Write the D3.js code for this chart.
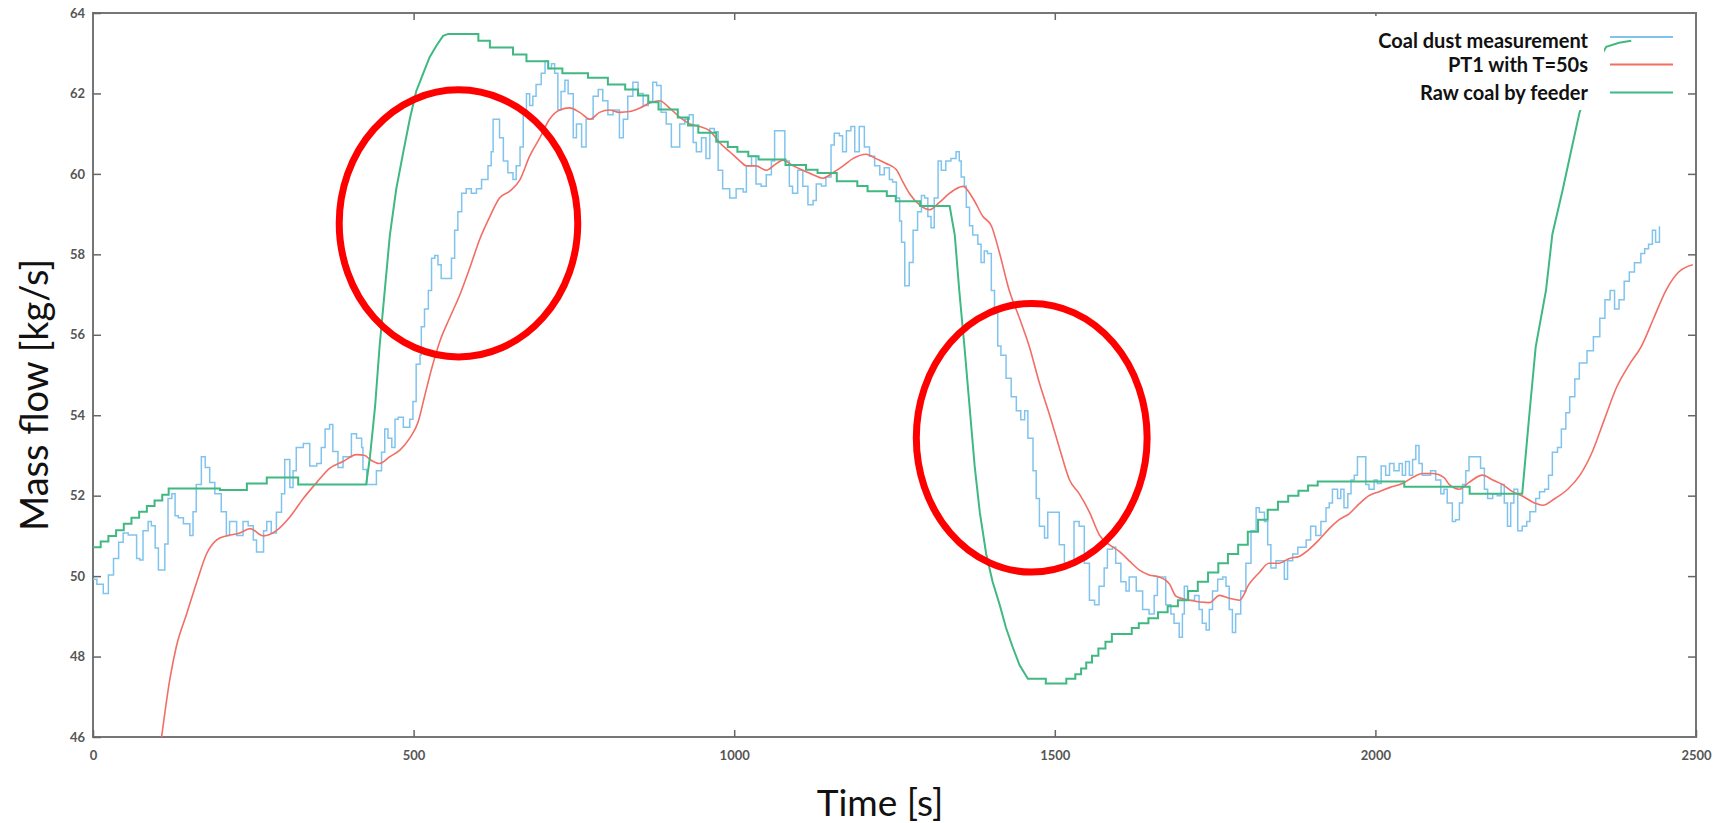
<!DOCTYPE html>
<html>
<head>
<meta charset="utf-8">
<script src="https://cdn.jsdelivr.net/npm/d3@7"></script>
<style>
  body { margin: 0; background: #fff; }
  .tick text { font-family: Lato, "Open Sans", sans-serif; font-weight: 700; font-size: 13px; fill: #555; }
  .tick line { stroke: #666; stroke-width: 1.5; }
  .domain { display: none; }
</style>
</head>
<body>
<div id="chart"></div>
<script>
// ---- data: [time s, mass flow kg/s]
var xTicks = [0, 500, 1000, 1500, 2000, 2500];
var yTicks = [46, 48, 50, 52, 54, 56, 58, 60, 62, 64];
var seriesNames = ["Coal dust measurement", "PT1 with T=50s", "Raw coal by feeder"];

var coalDust = [
[0,49.92],[6,49.8],[16,49.57],[24,50.03],[32,50.44],[40,50.84],[47,51.07],[55,51.02],[63,51.02],[68,50.44],[73,50.4],[78,51.13],[86,51.36],[91,51.25],[97,50.7],[102,50.15],[107,50.15],[112,50.8],[117,51.93],[123,52.05],[128,51.5],[133,51.45],[141,51.3],[151,51.01],[156,51.6],[161,52.28],[169,52.97],[175,52.7],[182,52.33],[190,52.05],[200,51.6],[208,51.01],[213,51.36],[224,51.01],[234,51.36],[242,51.25],[250,50.9],[255,50.6],[263,50.6],[266,51.13],[271,51.36],[278,51.07],[286,51.59],[294,52.05],[299,52.9],[307,52.2],[312,52.62],[317,53.2],[328,53.3],[338,52.74],[349,52.8],[356,53.2],[362,53.66],[369,53.77],[374,53.1],[382,52.7],[390,52.97],[398,52.97],[403,53.54],[411,53.43],[419,53.2],
[421,52.65],[427,52.28],[434,52.28],[442,52.62],[450,53.08],[455,53.66],[460,53.43],[466,53.2],[471,53.9],[476,53.95],[484,53.7],[494,53.9],[499,54.34],[504,55.27],[510,55.5],[512,56.2],[517,56.64],[523,57.1],[528,57.9],[533,57.97],[538,57.74],[543,57.4],[554,57.4],[559,57.9],[564,58.6],[569,59.06],[575,59.52],[582,59.63],[590,59.52],[598,59.63],[606,59.86],[616,60.2],[621,60.55],[624,61.36],[629,61.36],[634,60.9],[640,60.32],[647,60.03],[655,59.86],[660,60.2],[666,60.67],[671,61.59],[676,61.99],[681,61.7],[686,61.93],[691,62.22],[699,62.5],[705,62.8],[710,62.62],[715,62.74],[720,62.5],[725,61.59],[730,62.05],[736,62.33],[741,61.99],[749,60.9],[754,61.24],[762,60.67],[769,61.36],[780,61.93],[788,62.1],[795,61.82],[803,61.47],[811,61.59],[821,60.9],[827,61.36],[834,61.93],[842,62.28],
[850,62.0],[858,61.7],[866,61.8],[873,62.28],[879,62.2],[886,61.53],[894,61.24],[902,60.67],[910,60.67],[915,61.24],[923,61.36],[930,61.47],[936,60.78],[941,60.55],[949,60.9],[956,60.38],[962,61.13],[969,61.05],[975,60.09],[982,59.63],[993,59.4],[1003,59.63],[1014,59.55],[1019,60.2],[1027,60.44],[1034,59.75],[1042,59.69],[1050,59.98],[1058,60.32],[1063,61.07],[1073,61.07],[1079,60.32],[1086,59.69],[1091,59.52],[1099,60.09],[1107,59.69],[1115,59.23],[1123,59.34],[1128,59.75],[1136,59.7],[1143,59.92],[1151,60.72],[1156,61.01],[1164,60.95],[1169,60.55],[1175,61.07],[1182,61.18],[1188,60.55],[1195,61.18],[1203,60.67],[1211,60.44],[1219,60.2],[1227,59.98],[1234,60.15],[1242,59.86],[1247,59.8],[1253,59.4],[1258,58.83],
[1261,58.3],[1266,57.22],[1273,57.8],[1279,58.6],[1286,59.06],[1292,59.46],[1297,59.4],[1302,58.94],[1307,58.66],[1312,59.4],[1318,60.32],[1323,60.09],[1330,60.32],[1338,60.38],[1346,60.55],[1351,60.32],[1354,59.92],[1359,59.69],[1362,59.17],[1367,58.71],[1372,58.48],[1380,58.25],[1385,57.8],[1390,58.08],[1395,58.02],[1401,57.1],[1406,56.53],[1411,55.72],[1416,55.49],[1424,54.92],[1432,54.46],[1440,54.11],[1447,53.89],[1453,54.11],[1458,53.43],[1466,52.62],[1471,51.93],[1476,51.24],[1484,50.95],[1489,51.59],[1502,51.59],[1507,50.78],[1515,50.32],[1523,50.32],[1530,51.36],[1538,51.24],[1546,50.32],[1554,49.4],[1562,49.29],[1569,49.75],[1577,50.2],[1582,50.67],[1590,50.72],[1595,50.32],[1603,49.86],[1611,49.63],[1616,49.98],[1627,49.63],[1637,49.17],[1647,49.06],[1655,49.52],[1660,49.98],[1668,49.98],[1673,49.29],[1681,49.06],[1686,48.83],
[1694,48.48],[1699,49.06],[1702,49.75],[1707,49.4],[1718,49.52],[1725,49.17],[1730,48.83],[1736,48.66],[1741,49.17],[1746,49.63],[1754,49.92],[1762,49.98],[1767,49.75],[1772,49.17],[1777,48.6],[1782,49.06],[1790,49.63],[1798,50.32],[1806,51.13],[1814,51.7],[1819,51.59],[1827,51.36],[1832,50.78],[1837,50.2],[1845,50.38],[1858,49.92],[1863,50.38],[1871,50.55],[1879,50.72],[1892,50.9],[1899,51.24],[1907,51.01],[1915,51.36],[1923,51.7],[1928,51.82],[1933,52.16],[1941,51.93],[1946,52.16],[1951,51.7],[1957,52.05],[1962,52.39],[1967,52.51],[1972,52.97],[1980,52.97],[1985,52.28],[1990,52.16],[1998,52.39],[2003,52.3],[2009,52.74],[2016,52.51],[2022,52.8],[2029,52.62],[2037,52.8],[2042,52.51],[2047,52.85],[2053,52.51],[2058,52.9],[2063,53.25],[2068,52.8],[2073,52.51],[2086,52.62],[2094,52.39],[2102,52.05],
[2107,52.16],[2112,51.82],[2120,51.36],[2125,51.4],[2131,51.82],[2136,52.28],[2141,52.62],[2146,52.97],[2159,52.97],[2164,52.68],[2170,52.16],[2175,51.93],[2183,52.05],[2190,52.0],[2196,52.28],[2201,51.82],[2206,51.24],[2211,51.82],[2216,52.16],[2222,51.13],[2229,51.24],[2236,51.36],[2241,51.6],[2250,51.93],[2256,52.1],[2264,52.16],[2270,52.51],[2276,53.08],[2284,53.2],[2290,53.66],[2297,54.06],[2303,54.46],[2311,54.9],[2318,55.3],[2330,55.6],[2340,55.95],[2350,56.41],[2358,56.87],[2366,57.1],[2373,56.64],[2380,56.87],[2388,57.33],[2396,57.56],[2404,57.79],[2414,58.02],[2420,58.14],[2426,58.25],[2432,58.6],[2437,58.3],[2443,58.7]
];

var pt1 = [
[107,46.0],[120,47.45],[130,48.25],[146,49.06],[162,49.86],[177,50.55],[193,50.9],[208,51.0],[229,51.07],[245,51.18],[266,51.0],[286,51.13],[307,51.47],[328,51.93],[349,52.33],[369,52.68],[390,52.85],[411,53.02],[424,53.0],[432,52.9],[447,52.8],[463,52.97],[479,53.14],[494,53.43],[507,53.83],[517,54.46],[528,55.15],[541,55.84],[556,56.41],[572,56.99],[588,57.68],[603,58.37],[619,58.94],[634,59.4],[650,59.57],[666,59.86],[681,60.44],[697,60.9],[712,61.36],[728,61.59],[743,61.64],[759,61.53],[775,61.36],[790,61.53],[806,61.59],[821,61.53],[837,61.55],[853,61.64],[868,61.76],[884,61.82],[899,61.64],[915,61.41],[931,61.24],[946,61.18],[962,61.07],[977,60.78],[993,60.55],[1009,60.32],[1019,60.2],[1034,60.2],[1050,60.09],[1066,60.26],[1076,60.34],[1092,60.2],[1107,60.09],[1123,59.98],[1138,59.89],[1154,60.03],[1170,60.2],[1185,60.38],[1206,60.49],[1221,60.38],[1237,60.26],[1253,60.1],[1263,59.8],[1273,59.52],[1289,59.23],[1305,59.11],[1320,59.29],[1336,59.52],[1357,59.69],[1372,59.4],[1388,58.94],[1401,58.71],[1414,58.02],[1429,57.1],[1445,56.41],[1460,55.72],[1476,54.8],[1492,54.0],[1507,53.2],[1523,52.39],[1538,52.05],[1554,51.59],[1570,51.01],[1585,50.78],[1601,50.61],[1616,50.38],[1632,50.15],[1647,50.03],[1663,49.98],[1679,49.8],[1689,49.5],[1710,49.4],[1741,49.34],[1757,49.52],[1772,49.45],[1788,49.4],[1803,49.8],[1819,50.09],[1834,50.32],[1850,50.32],[1866,50.44],[1881,50.49],[1897,50.67],[1912,50.9],[1928,51.18],[1944,51.41],[1959,51.55],[1975,51.8],[1990,52.0],[2006,52.1],[2022,52.2],[2042,52.3],[2058,52.45],[2073,52.55],[2089,52.55],[2107,52.45],[2115,52.28],[2131,52.16],[2146,52.33],[2167,52.51],[2183,52.39],[2198,52.28],[2214,52.1],[2229,51.99],[2248,51.82],[2261,51.76],[2280,51.93],[2300,52.16],[2319,52.51],[2338,53.08],[2357,53.89],[2376,54.69],[2396,55.26],[2415,55.72],[2434,56.41],[2453,57.1],[2473,57.56],[2495,57.74]
];

// feeder signal is a staircase, corners listed as read
var rawCoal = [
[0,50.72],[12,50.72],[12,50.86],[24,50.86],[24,51.0],[36,51.0],[36,51.14],[48,51.14],[48,51.3],[60,51.3],[60,51.45],[72,51.45],[72,51.6],[84,51.6],[84,51.74],[96,51.74],[96,51.88],[108,51.88],[108,52.02],[118,52.02],[118,52.18],[198,52.18],[198,52.14],[240,52.14],[240,52.3],[271,52.3],[271,52.45],[320,52.45],[320,52.28],[426,52.28],
[432,52.97],[440,54.23],[447,55.72],[455,57.1],[463,58.48],[473,59.63],[484,60.55],[494,61.36],[504,62.05],[515,62.5],[525,62.9],[536,63.2],[546,63.43],[554,63.48],
[601,63.48],[601,63.31],[619,63.31],[619,63.14],[655,63.14],[655,62.97],[676,62.97],[676,62.8],[710,62.8],[710,62.62],[732,62.62],[732,62.5],[772,62.5],[772,62.39],[803,62.39],[803,62.22],[830,62.22],[830,62.1],[850,62.1],[850,61.95],[866,61.95],[866,61.78],[882,61.78],[882,61.6],[912,61.6],[912,61.4],[928,61.4],[928,61.2],[944,61.2],[944,61.02],[972,61.02],[972,60.8],[990,60.8],[990,60.67],[1005,60.67],[1005,60.55],[1022,60.55],[1022,60.44],[1038,60.44],[1038,60.36],[1080,60.36],[1080,60.22],[1112,60.22],[1112,60.1],[1130,60.1],[1130,60.02],[1160,60.02],[1160,59.82],[1192,59.82],[1192,59.7],[1208,59.7],[1208,59.57],[1238,59.57],[1238,59.45],[1252,59.45],[1252,59.32],[1290,59.32],[1290,59.2],[1336,59.2],
[1344,58.48],[1351,57.1],[1359,55.72],[1367,54.23],[1375,52.74],[1383,51.59],[1393,50.55],[1403,49.86],[1414,49.29],[1424,48.71],[1434,48.25],[1445,47.79],[1458,47.45],[1486,47.45],[1486,47.33],[1518,47.33],
[1518,47.45],[1532,47.45],[1532,47.56],[1541,47.56],[1541,47.7],[1549,47.7],[1549,47.85],[1558,47.85],[1558,48.02],[1568,48.02],[1568,48.2],[1579,48.2],[1579,48.37],[1589,48.37],[1589,48.56],[1620,48.56],[1620,48.71],[1631,48.71],[1631,48.83],[1646,48.83],[1646,48.95],[1661,48.95],[1661,49.1],[1676,49.1],[1676,49.25],[1692,49.25],[1692,49.4],[1708,49.4],[1708,49.63],[1723,49.63],[1723,49.86],[1739,49.86],[1739,50.09],[1755,50.09],[1755,50.32],[1770,50.32],[1770,50.55],[1786,50.55],[1786,50.78],[1801,50.78],[1801,51.1],[1817,51.1],[1817,51.4],[1832,51.4],[1832,51.65],[1848,51.65],[1848,51.85],[1864,51.85],[1864,52.0],[1880,52.0],[1880,52.12],[1895,52.12],[1895,52.25],[1910,52.25],[1910,52.35],[2045,52.35],[2045,52.22],[2147,52.22],[2147,52.05],[2229,52.05],
[2240,54.0],[2250,55.7],[2266,57.1],[2276,58.5],[2292,59.6],[2307,60.7],[2318,61.5],[2340,62.6],[2360,63.16],[2380,63.26],[2399,63.31]
];

// hand-drawn red ellipses, centre and radii in data units
var marks = [
  { t: 570, v: 58.77, rt: 186, rv: 3.32 },
  { t: 1464, v: 53.44, rt: 180, rv: 3.34 }
];

var W = 1733, H = 823;
var plotL = 93, plotR = 1696, plotT = 13, plotB = 737;

var svg = d3.select("#chart").append("svg")
    .attr("width", W)
    .attr("height", H);

var x = d3.scaleLinear().domain([0, 2500]).range([plotL, plotR]);
var y = d3.scaleLinear().domain([46, 64]).range([plotB, plotT]);

// frame
svg.append("rect")
    .attr("x", plotL).attr("y", plotT)
    .attr("width", plotR - plotL).attr("height", plotB - plotT)
    .attr("fill", "none")
    .attr("stroke", "#767676")
    .attr("stroke-width", 2);

// axes, gnuplot-like inward ticks, mirrored on the other sides
svg.append("g")
    .attr("transform", "translate(" + plotL + ",0)")
    .call(d3.axisLeft(y).tickValues(yTicks).tickSize(-8).tickPadding(8).tickSizeOuter(0));
svg.append("g")
    .attr("transform", "translate(" + plotR + ",0)")
    .call(d3.axisRight(y).tickValues(yTicks.slice(1, -1)).tickSize(-8).tickFormat("").tickSizeOuter(0));
svg.append("g")
    .attr("transform", "translate(0," + plotB + ")")
    .call(d3.axisBottom(x).tickValues(xTicks).tickFormat(d3.format("d")).tickSize(-7).tickPadding(14).tickSizeOuter(0));
svg.append("g")
    .attr("transform", "translate(0," + plotT + ")")
    .call(d3.axisTop(x).tickValues(xTicks.slice(1, -1)).tickSize(-7).tickFormat("").tickSizeOuter(0));

svg.append("text")
    .attr("transform", "translate(48,395) rotate(-90)")
    .attr("text-anchor", "middle")
    .attr("font-family", "Lato, 'Open Sans', sans-serif")
    .attr("font-size", "38px")
    .attr("fill", "#111")
    .text("Mass flow [kg/s]");

svg.append("text")
    .attr("x", 880)
    .attr("y", 816)
    .attr("text-anchor", "middle")
    .attr("font-family", "Lato, 'Open Sans', sans-serif")
    .attr("font-size", "37px")
    .attr("fill", "#111")
    .text("Time [s]");

var line = d3.line()
    .x(function(d) { return x(d[0]); })
    .y(function(d) { return y(d[1]); });

var colors = ["#80c4ee", "#f26e65", "#40b882"];

svg.append("path")
    .attr("d", line.curve(d3.curveStepAfter)(coalDust))
    .attr("fill", "none")
    .attr("stroke", colors[0])
    .attr("stroke-width", 1.5);

svg.append("path")
    .attr("d", line.curve(d3.curveMonotoneX)(pt1))
    .attr("fill", "none")
    .attr("stroke", colors[1])
    .attr("stroke-width", 1.6);

svg.append("path")
    .attr("d", line.curve(d3.curveLinear)(rawCoal))
    .attr("fill", "none")
    .attr("stroke", colors[2])
    .attr("stroke-width", 2);

// key: white behind the labels hides the feeder curve there
svg.append("rect")
    .attr("x", 1360).attr("y", 16)
    .attr("width", 244).attr("height", 94)
    .attr("fill", "#fff");

var keyRows = [48, 72, 100];
var keySample = [37, 64.5, 92.5];
seriesNames.forEach(function(name, i) {
    svg.append("text")
        .attr("x", 1588)
        .attr("y", keyRows[i])
        .attr("text-anchor", "end")
        .attr("font-family", "Lato, 'Open Sans', sans-serif")
        .attr("font-weight", 700)
        .attr("font-size", "20px")
        .attr("fill", "#111")
        .text(name);
    svg.append("line")
        .attr("x1", 1610).attr("x2", 1673)
        .attr("y1", keySample[i]).attr("y2", keySample[i])
        .attr("stroke", colors[i])
        .attr("stroke-width", 2);
});

svg.selectAll("ellipse.mark")
    .data(marks)
    .enter()
    .append("ellipse")
    .attr("class", "mark")
    .attr("cx", function(d) { return x(d.t); })
    .attr("cy", function(d) { return y(d.v); })
    .attr("rx", function(d) { return x(d.rt) - x(0); })
    .attr("ry", function(d) { return y(0) - y(d.rv); })
    .attr("fill", "none")
    .attr("stroke", "#ff0000")
    .attr("stroke-width", 7);
</script>
</body>
</html>
